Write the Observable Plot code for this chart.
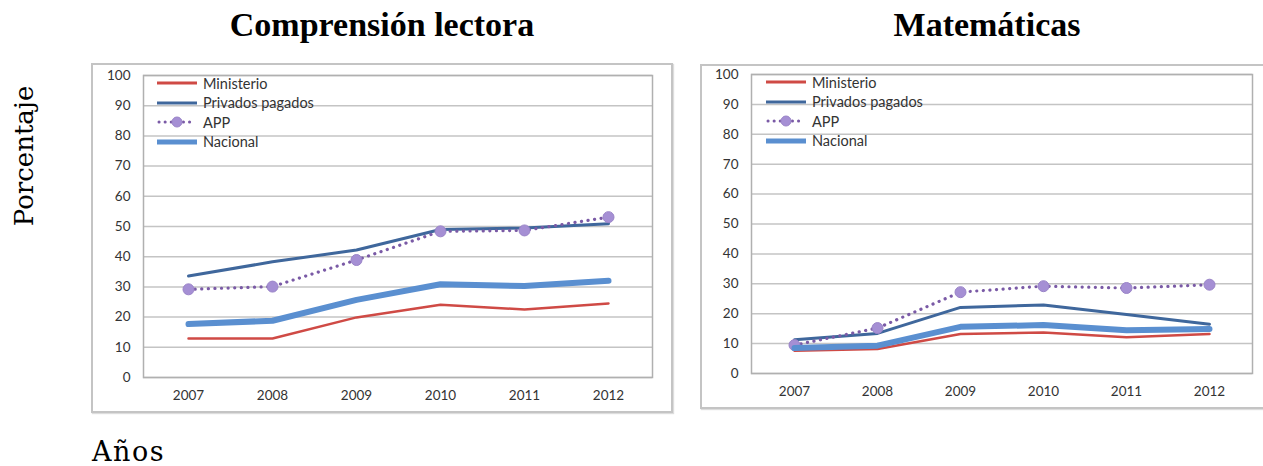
<!DOCTYPE html>
<html>
<head>
<meta charset="utf-8">
<script src="https://cdn.jsdelivr.net/npm/d3@7"></script>
<script src="https://cdn.jsdelivr.net/npm/@observablehq/plot@0.6"></script>
<style>
  html, body { margin: 0; padding: 0; background: #fff; }
  #page { position: relative; width: 1263px; height: 466px; overflow: hidden; }
  .abs { position: absolute; }
  .title { font-family: "Liberation Serif", serif; font-weight: bold; font-size: 34px; line-height: 1; color: #000; white-space: nowrap; }
  .axtitle { font-family: "DejaVu Serif", serif; font-size: 26px; color: #000; white-space: nowrap; }
  .box { border: 2px solid #c4c4c4; box-sizing: border-box; box-shadow: 1px 1px 1px #ddd; }
  .legend { font-family: Lato, "Open Sans", sans-serif; font-size: 14.5px; color: #333; }
  .legend .row { position: absolute; height: 14px; display: flex; align-items: center; white-space: nowrap; }
  .legend .row span { margin-left: 4px; }
</style>
</head>
<body>
<div id="page"></div>
<script>
// ---- data ----
const years = [2007, 2008, 2009, 2010, 2011, 2012];
const yTicks = [0, 10, 20, 30, 40, 50, 60, 70, 80, 90, 100];
const seriesNames = ["Ministerio", "Privados pagados", "APP", "Nacional"];

const lecturaMinisterio = [12.9, 12.9, 19.9, 24.1, 22.5, 24.5];
const lecturaPrivados   = [33.6, 38.3, 42.2, 49.0, 49.5, 50.9];
const lecturaAPP        = [29.2, 30.1, 38.9, 48.4, 48.7, 53.1];
const lecturaNacional   = [17.7, 18.8, 25.7, 30.9, 30.3, 32.0];

const matMinisterio = [7.6, 8.2, 13.2, 13.7, 12.1, 13.2];
const matPrivados   = [11.3, 13.4, 22.1, 22.9, 19.7, 16.5];
const matAPP        = [9.5, 15.2, 27.2, 29.2, 28.6, 29.7];
const matNacional   = [8.5, 9.3, 15.6, 16.2, 14.5, 14.9];

const panelTitles = ["Comprensión lectora", "Matemáticas"];
const yTitle = "Porcentaje";
const xTitle = "Años";

// ---- styles ----
const colors = {
  "Ministerio": "#cf4a45",
  "Privados pagados": "#3f679c",
  "APP": "#7a5aa6",
  "Nacional": "#5a8fd0"
};
const widths = { "Ministerio": 2.5, "Privados pagados": 3, "APP": 3.2, "Nacional": 6 };
const dotFill = "#a58fd4";

function rows(vals) { return years.map((year, i) => ({ year, value: vals[i] })); }

function makeChart(sets, opt) {
  const [min, priv, app, nac] = sets.map(rows);
  return Plot.plot({
    width: opt.width,
    height: opt.height,
    marginLeft: opt.ml, marginRight: opt.mr, marginTop: opt.mt, marginBottom: opt.mb,
    style: { fontFamily: "Lato, 'Open Sans', sans-serif", fontSize: "13.5px", color: "#333", background: "transparent" },
    x: { type: "point", domain: years, padding: 0.5, label: null, tickSize: 0, tickPadding: 13, tickFormat: d => String(d) },
    y: { domain: [0, 100], ticks: yTicks, label: null, tickSize: 0, tickPadding: 13 },
    marks: [
      Plot.gridY(yTicks, { stroke: "#c4c4c4", strokeOpacity: 1, strokeWidth: 1.5 }),
      Plot.frame({ stroke: "#b0b0b0", strokeWidth: 1.5 }),
      Plot.line(min, { x: "year", y: "value", stroke: colors["Ministerio"], strokeWidth: widths["Ministerio"] }),
      Plot.line(priv, { x: "year", y: "value", stroke: colors["Privados pagados"], strokeWidth: widths["Privados pagados"] }),
      Plot.line(app, { x: "year", y: "value", stroke: colors["APP"], strokeWidth: widths["APP"], strokeDasharray: "0.1 6.5", strokeLinecap: "round" }),
      Plot.dot(app, { x: "year", y: "value", r: 5.5, fill: dotFill, stroke: "#9a84c8", strokeWidth: 1 }),
      Plot.line(nac, { x: "year", y: "value", stroke: colors["Nacional"], strokeWidth: widths["Nacional"] })
    ]
  });
}

const page = document.getElementById("page");
function add(el, css) { el.classList.add("abs"); Object.assign(el.style, css); page.appendChild(el); return el; }

function legend(left, top) {
  const lg = document.createElement("div");
  lg.className = "legend";
  add(lg, { left: left + "px", top: top + "px" });
  seriesNames.forEach((name, i) => {
    const r = document.createElement("div");
    r.className = "row";
    r.style.top = (i * 19.5) + "px";
    r.style.left = "0px";
    const ns = "http://www.w3.org/2000/svg";
    const s = document.createElementNS(ns, "svg");
    s.setAttribute("width", 44); s.setAttribute("height", 14);
    const ln = document.createElementNS(ns, "line");
    ln.setAttribute("x1", 2); ln.setAttribute("x2", 42); ln.setAttribute("y1", 7); ln.setAttribute("y2", 7);
    ln.setAttribute("stroke", colors[name]);
    ln.setAttribute("stroke-width", name === "Nacional" ? 5 : 3);
    if (name === "APP") { ln.setAttribute("stroke-dasharray", "0.1 6"); ln.setAttribute("stroke-linecap", "round"); ln.setAttribute("x1", 4); ln.setAttribute("x2", 40); }
    s.appendChild(ln);
    if (name === "APP") {
      const c = document.createElementNS(ns, "circle");
      c.setAttribute("cx", 22); c.setAttribute("cy", 7); c.setAttribute("r", 5);
      c.setAttribute("fill", dotFill); c.setAttribute("stroke", "#9a84c8");
      s.appendChild(c);
    }
    r.appendChild(s);
    const t = document.createElement("span");
    t.textContent = name;
    r.appendChild(t);
    lg.appendChild(r);
  });
}

// boxes
const box1 = document.createElement("div"); box1.className = "box";
add(box1, { left: "91px", top: "63px", width: "582px", height: "350px" });
const box2 = document.createElement("div"); box2.className = "box";
add(box2, { left: "700px", top: "64px", width: "580px", height: "345px" });

// charts
const c1 = makeChart([lecturaMinisterio, lecturaPrivados, lecturaAPP, lecturaNacional],
  { width: 580, height: 348, ml: 51, mr: 20, mt: 11, mb: 35 });
add(c1, { left: "92px", top: "64px" });
const c2 = makeChart([matMinisterio, matPrivados, matAPP, matNacional],
  { width: 562, height: 343, ml: 50, mr: 11, mt: 9, mb: 35 });
add(c2, { left: "701px", top: "65px" });

legend(155, 76);
legend(764, 75);

// titles
const t1 = document.createElement("div"); t1.className = "title"; t1.textContent = panelTitles[0];
add(t1, { left: "382px", top: "8px", transform: "translateX(-50%)" });
const t2 = document.createElement("div"); t2.className = "title"; t2.textContent = panelTitles[1];
add(t2, { left: "987px", top: "8px", transform: "translateX(-50%)" });

const yt = document.createElement("div"); yt.className = "axtitle"; yt.textContent = yTitle;
add(yt, { left: "24px", top: "156px", transform: "translate(-50%, -50%) rotate(-90deg)" });
const xt = document.createElement("div"); xt.className = "axtitle"; xt.textContent = xTitle;
add(xt, { left: "92px", top: "438px", fontSize: "27px", lineHeight: "1", letterSpacing: "1.5px" });
</script>
</body>
</html>
